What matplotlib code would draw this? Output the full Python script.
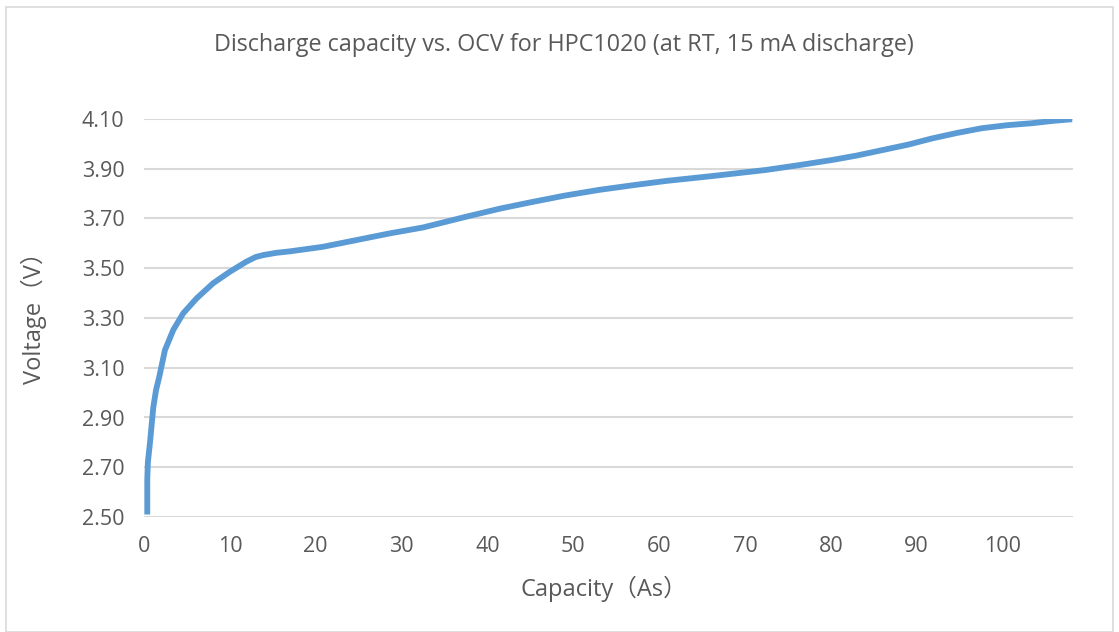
import matplotlib.pyplot as plt
import matplotlib.patches as patches

# Discharge curve (capacity in As, voltage in V)
capacity = [0.38, 0.38, 0.45, 0.7, 1.08, 1.4, 1.78, 2.44, 3.41, 4.57, 6.13, 8.06,
            10.0, 11.9, 13.0, 13.9, 15.4, 17.0, 20.8, 24.7, 28.6, 32.5, 37.5,
            41.5, 45.3, 49.0, 53.0, 57.0, 60.8, 66.0, 72.4, 76.0, 80.1, 83.0,
            86.0, 89.0, 91.8, 94.7, 97.6, 100.5, 103.4, 106.0, 108.1]
voltage = [2.51, 2.65, 2.72, 2.80, 2.94, 3.01, 3.064, 3.171, 3.252, 3.319, 3.379, 3.44,
           3.486, 3.526, 3.545, 3.553, 3.562, 3.568, 3.586, 3.613, 3.64, 3.664, 3.707,
           3.74, 3.767, 3.792, 3.815, 3.834, 3.851, 3.870, 3.895, 3.913, 3.935, 3.953,
           3.975, 3.997, 4.022, 4.044, 4.063, 4.075, 4.083, 4.093, 4.099]

x_ticks = [0, 10, 20, 30, 40, 50, 60, 70, 80, 90, 100]
y_ticks = [2.50, 2.70, 2.90, 3.10, 3.30, 3.50, 3.70, 3.90, 4.10]

title = 'Discharge capacity vs. OCV for HPC1020 (at RT, 15 mA discharge)'
x_label = 'Capacity（As）'
y_label = 'Voltage（V）'

fonts = ['Open Sans', 'Noto Sans CJK SC', 'DejaVu Sans']
plt.rcParams['font.family'] = fonts
text_color = '#595959'
grid_color = '#D9D9D9'

W, H = 1119, 632
fig = plt.figure(figsize=(W / 100, H / 100), dpi=100)

# outer chart border
fig.patches.append(patches.Rectangle((6 / W, 0 / H), (1113 - 6) / W, 625 / H,
                                     transform=fig.transFigure, fill=False,
                                     edgecolor='#D9D9D9', linewidth=1.2))

ax = fig.add_axes([144 / W, 115 / H, (1073 - 144) / W, (513 - 115) / H])

ax.plot(capacity, voltage, color='#5B9BD5', linewidth=4.2,
        solid_capstyle='butt', solid_joinstyle='round', zorder=3)

ax.set_xlim(0, 108.2)
ax.set_ylim(2.50, 4.10)
ax.set_xticks(x_ticks)
ax.set_yticks(y_ticks)
ax.set_yticklabels([f'{v:.2f}' for v in y_ticks])
ax.tick_params(length=0, labelsize=15.5, labelcolor=text_color)
ax.tick_params(axis='x', pad=14)
ax.tick_params(axis='y', pad=14)
ax.grid(axis='y', color=grid_color, linewidth=1.5)
ax.set_axisbelow(True)
for side in ['top', 'right', 'left', 'bottom']:
    ax.spines[side].set_visible(False)

fig.text(564 / W, 1 - 45 / H, title, ha='center', va='center',
         fontsize=16.8, color=text_color)
fig.text(604 / W, 1 - 589 / H, x_label, ha='center', va='center',
         fontsize=17, color=text_color)
fig.text(34 / W, 1 - 312 / H, y_label, ha='center', va='center',
         rotation=90, fontsize=17, color=text_color)

fig.savefig('out.png', dpi=100)
